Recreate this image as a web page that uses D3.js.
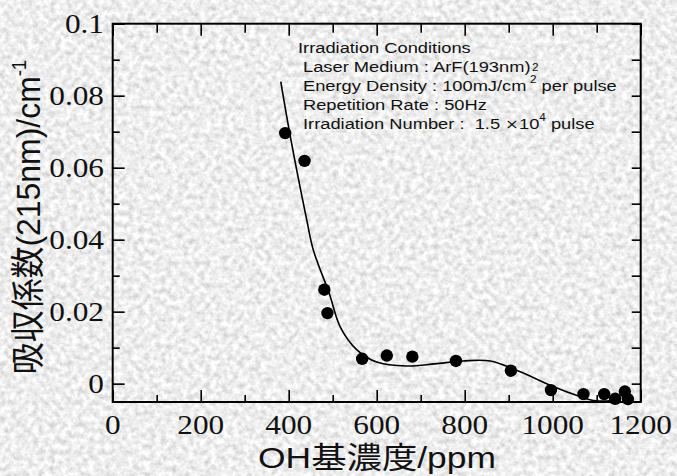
<!DOCTYPE html>
<html>
<head>
<meta charset="utf-8">
<script src="https://cdn.jsdelivr.net/npm/d3@7"></script>
<style>
  body { margin: 0; background: #d9d9d9; }
  svg { display: block; }
</style>
</head>
<body>
<div id="chart"></div>
<script>
// measured points: OH concentration (ppm) vs absorption coefficient at 215nm (cm^-1)
var ohConc = [392, 436, 481, 488, 567, 623, 681, 780, 905, 996, 1070, 1117, 1142, 1164, 1171];
var absCoef = [0.0696, 0.0619, 0.0261, 0.0196, 0.0069, 0.0078, 0.0075, 0.0063, 0.0036, -0.0018, -0.0029, -0.0029, -0.0042, -0.0022, -0.0043];

// fitted curve
var fitX = [382, 403, 441, 456, 492, 517, 555, 600, 668, 732, 796, 858, 926, 1001, 1062, 1092, 1130];
var fitY = [0.0839, 0.0691, 0.0455, 0.0371, 0.0251, 0.0158, 0.0094, 0.0060, 0.0049, 0.0055, 0.0063, 0.0063, 0.0033, -0.0008, -0.0036, -0.0047, -0.0048];

var xMajor = [0, 200, 400, 600, 800, 1000, 1200];
var xMinor = [100, 300, 500, 700, 900, 1100];
var yMajor = [0, 0.02, 0.04, 0.06, 0.08, 0.1];
var yMinor = [0.01, 0.03, 0.05, 0.07, 0.09];
var yLabels = ["0", "0.02", "0.04", "0.06", "0.08", "0.1"];

var width = 677, height = 476;
// plot frame (note: "top" is a reserved window global, so use other names)
var pL = 112.7, pR = 640.7, pT = 23.7, pB = 402;
var sx = 1.18; // the source picture is stretched sideways

var svg = d3.select("#chart").append("svg")
    .attr("width", width)
    .attr("height", height);

var defs = svg.append("defs");
var f = defs.append("filter").attr("id", "marble")
    .attr("x", 0).attr("y", 0).attr("width", "100%").attr("height", "100%");
f.append("feTurbulence")
    .attr("type", "fractalNoise")
    .attr("baseFrequency", 0.18)
    .attr("numOctaves", 3)
    .attr("seed", 7);
f.append("feColorMatrix")
    .attr("type", "matrix")
    .attr("values", "0.65 0 0 0 0.53  0.65 0 0 0 0.53  0.65 0 0 0 0.53  0 0 0 0 1");

defs.append("clipPath").attr("id", "plotclip")
    .append("rect")
    .attr("x", pL).attr("y", pT)
    .attr("width", pR - pL + 1).attr("height", pB - pT);

svg.append("rect")
    .attr("width", width).attr("height", height)
    .attr("filter", "url(#marble)");

var x = d3.scaleLinear().domain([0, 1200]).range([pL, pR]);
var y = d3.scaleLinear().domain([-0.0051, 0.1]).range([pB, pT]);

// ticks, all pointing inward
function tickAxis(axis, values, size, tx, ty) {
    var g = svg.append("g")
        .attr("transform", "translate(" + tx + "," + ty + ")")
        .call(axis.tickValues(values).tickSizeInner(-size).tickSizeOuter(0).tickFormat(""));
    g.select(".domain").remove();
    g.selectAll("line").attr("stroke", "#000").attr("stroke-width", 1.6);
    return g;
}
tickAxis(d3.axisBottom(x), xMajor, 12, 0, pB);
tickAxis(d3.axisBottom(x), xMinor, 7, 0, pB);
tickAxis(d3.axisTop(x), xMajor, 12, 0, pT);
tickAxis(d3.axisTop(x), xMinor, 9, 0, pT);
tickAxis(d3.axisLeft(y), yMajor, 12, pL, 0);
tickAxis(d3.axisLeft(y), yMinor, 7, pL, 0);
tickAxis(d3.axisRight(y), yMajor.concat(yMinor), 9, pR, 0);

svg.append("rect")
    .attr("x", pL).attr("y", pT)
    .attr("width", pR - pL).attr("height", pB - pT)
    .attr("fill", "none")
    .attr("stroke", "#000")
    .attr("stroke-width", 2);

// stretched text helper
function stext(px, py, str, size, family, anchor) {
    return svg.append("text")
        .attr("transform", "translate(" + px + "," + py + ") scale(" + sx + ",1)")
        .attr("text-anchor", anchor || "start")
        .attr("font-family", family)
        .attr("font-size", size)
        .attr("fill", "#111")
        .text(str);
}

var serif = "'Liberation Serif', 'DejaVu Serif', serif";
var sans = "'Liberation Sans', Arial, 'Noto Sans CJK JP', sans-serif";

xMajor.forEach(function(v) {
    stext(x(v), 434, String(v), 26.5, serif, "middle");
});
yMajor.forEach(function(v, i) {
    stext(104, y(v) + 9, yLabels[i], 26.5, serif, "end");
});

// axis titles
stext(377, 468, "OH基濃度/ppm", 30, sans, "middle");

var yt = svg.append("text")
    .attr("transform", "translate(40,217) rotate(-90) scale(1.03,1.1)")
    .attr("text-anchor", "middle")
    .attr("font-family", sans)
    .attr("font-size", 31)
    .attr("fill", "#111");
yt.append("tspan").text("吸収係数(215nm)/cm");
yt.append("tspan").attr("font-size", 18).attr("dy", -13).text("-1");

// fitted curve
var curvePts = fitX.map(function(v, i) { return [v, fitY[i]]; });
var line = d3.line()
    .x(function(d) { return x(d[0]); })
    .y(function(d) { return y(d[1]); })
    .curve(d3.curveCatmullRom.alpha(0.5));

svg.append("path")
    .datum(curvePts)
    .attr("clip-path", "url(#plotclip)")
    .attr("d", line)
    .attr("fill", "none")
    .attr("stroke", "#000")
    .attr("stroke-width", 1.6);

svg.selectAll(".dot")
    .data(ohConc)
    .enter().append("circle")
    .attr("class", "dot")
    .attr("cx", function(d) { return x(d); })
    .attr("cy", function(d, i) { return y(absCoef[i]); })
    .attr("r", 6.2)
    .attr("fill", "#000");

// irradiation conditions note
var noteSize = 15.5;
stext(298, 53, "Irradiation Conditions", noteSize, sans);
stext(303, 72, "Laser Medium : ArF(193nm)", noteSize, sans);
stext(532, 71, "2", 10, sans);
var t3 = stext(303, 91, "Energy Density : 100mJ/cm", noteSize, sans);
t3.append("tspan").attr("font-size", 10).attr("dy", -8).attr("dx", 3).text("2");
t3.append("tspan").attr("dy", 8).text(" per pulse");
stext(303, 110, "Repetition Rate : 50Hz", noteSize, sans);
var t5 = stext(303, 129, "Irradiation Number :\u00a0\u00a01.5 ", noteSize, sans);
t5.append("tspan").attr("font-family", "'DejaVu Sans', sans-serif").attr("font-size", 14).text("×");
t5.append("tspan").text("10");
t5.append("tspan").attr("font-size", 10).attr("dy", -8).text("4");
t5.append("tspan").attr("dy", 8).text(" pulse");
</script>
</body>
</html>
